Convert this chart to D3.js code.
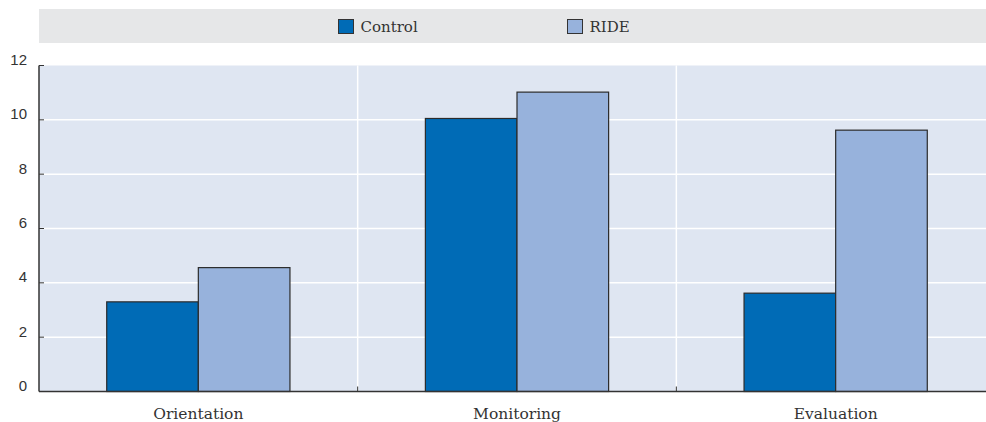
<!DOCTYPE html>
<html>
<head>
<meta charset="utf-8">
<script src="https://cdn.jsdelivr.net/npm/d3@7"></script>
<style>
  html, body { margin: 0; padding: 0; background: #ffffff; overflow: hidden; }
  svg { display: block; }
</style>
</head>
<body>
<svg id="chart" width="986" height="422"></svg>
<script>
const categories = ["Orientation", "Monitoring", "Evaluation"];
const seriesNames = ["Control", "RIDE"];
const controlValues = [3.3, 10.05, 3.62];
const rideValues = [4.56, 11.02, 9.62];
const yTicks = [0, 2, 4, 6, 8, 10, 12];
const colors = ["#006bb6", "#97b2dc"];

const svg = d3.select("#chart");
const W = 986, H = 422;
const plot = { left: 39, right: 995, top: 65.5, bottom: 391.5 };

// legend band
svg.append("rect").attr("x", 39).attr("y", 9).attr("width", W - 39).attr("height", 34).attr("fill", "#e6e7e8");
const legendItems = [
  { name: seriesNames[0], color: colors[0], x: 338.5 },
  { name: seriesNames[1], color: colors[1], x: 567.5 }
];
legendItems.forEach(d => {
  svg.append("rect").attr("x", d.x).attr("y", 19.5).attr("width", 15).attr("height", 14)
    .attr("fill", d.color).attr("stroke", "#333").attr("stroke-width", 1);
  svg.append("text").attr("x", d.x + 22).attr("y", 32).text(d.name)
    .attr("font-family", "DejaVu Serif").attr("font-size", 15).attr("fill", "#333");
});

const x0 = d3.scaleBand().domain(categories).range([plot.left, plot.right]).paddingInner(0).paddingOuter(0);
const bw = x0.bandwidth();
const pad = bw * 0.2125;
const x1 = d3.scaleBand().domain(seriesNames).range([pad, bw - pad]).padding(0);
const y = d3.scaleLinear().domain([0, 12]).range([plot.bottom, plot.top]);

// background
svg.append("rect").attr("x", plot.left).attr("y", plot.top).attr("width", plot.right - plot.left)
  .attr("height", plot.bottom - plot.top).attr("fill", "#dfe6f2");

// horizontal gridlines
svg.append("g").selectAll("line").data(yTicks.filter(t => t > 0 && t < 12)).join("line")
  .attr("x1", plot.left).attr("x2", plot.right)
  .attr("y1", d => y(d)).attr("y2", d => y(d))
  .attr("stroke", "#ffffff").attr("stroke-width", 1.5);

// vertical separators
const seps = categories.slice(1).map(c => x0(c));
svg.append("g").selectAll("line").data(seps).join("line")
  .attr("x1", d => d).attr("x2", d => d).attr("y1", plot.top).attr("y2", plot.bottom)
  .attr("stroke", "#ffffff").attr("stroke-width", 1.5);

// bars
const data = categories.map((c, i) => ({ cat: c, vals: [controlValues[i], rideValues[i]] }));
const groups = svg.append("g").selectAll("g").data(data).join("g")
  .attr("transform", d => `translate(${x0(d.cat)},0)`);
groups.selectAll("rect").data(d => d.vals.map((v, j) => ({ s: seriesNames[j], v, j }))).join("rect")
  .attr("x", d => x1(d.s)).attr("width", x1.bandwidth())
  .attr("y", d => y(d.v)).attr("height", d => y(0) - y(d.v))
  .attr("fill", d => colors[d.j]).attr("stroke", "#2b2b2b").attr("stroke-width", 1.2);

// y axis
const yAxis = d3.axisLeft(y).tickValues(yTicks).tickSize(0).tickPadding(0);
const yg = svg.append("g").attr("transform", `translate(${plot.left},0)`).call(yAxis);
yg.select(".domain").remove();
yg.selectAll("text").attr("x", -12).attr("dy", "0").attr("y", -1)
  .attr("font-family", "Liberation Sans").attr("font-size", 15).attr("fill", "#333");
// inward tick marks
svg.append("g").selectAll("line").data(yTicks.filter(t => t > 0)).join("line")
  .attr("x1", plot.left).attr("x2", plot.left + 5)
  .attr("y1", d => y(d)).attr("y2", d => y(d)).attr("stroke", "#333").attr("stroke-width", 1);
svg.append("line").attr("x1", plot.left).attr("x2", plot.left).attr("y1", plot.top).attr("y2", plot.bottom)
  .attr("stroke", "#333").attr("stroke-width", 1.5);

// x axis
const xAxis = d3.axisBottom(x0).tickSize(0).tickPadding(0);
const xg = svg.append("g").attr("transform", `translate(0,${plot.bottom})`).call(xAxis);
xg.select(".domain").remove();
xg.selectAll("text").attr("y", 27.5).attr("dy", "0")
  .attr("font-family", "DejaVu Serif").attr("font-size", 15.5).attr("fill", "#333");
svg.append("g").selectAll("line").data(seps).join("line")
  .attr("x1", d => d).attr("x2", d => d).attr("y1", plot.bottom).attr("y2", plot.bottom - 5)
  .attr("stroke", "#333").attr("stroke-width", 1);
svg.append("line").attr("x1", plot.left).attr("x2", plot.right).attr("y1", plot.bottom).attr("y2", plot.bottom)
  .attr("stroke", "#333").attr("stroke-width", 1.5);
</script>
</body>
</html>
